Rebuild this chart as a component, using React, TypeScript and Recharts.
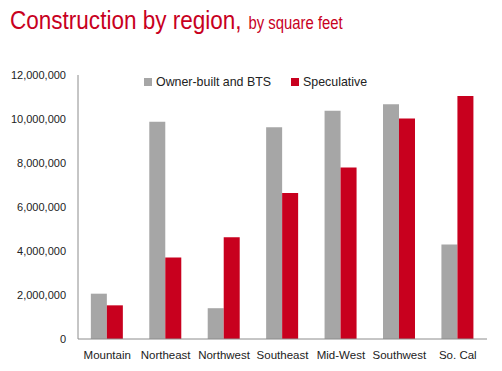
import React from 'react';
import { BarChart, Bar, XAxis, YAxis } from 'recharts';

const regions = ['Mountain', 'Northeast', 'Northwest', 'Southeast', 'Mid-West', 'Southwest', 'So. Cal'];
const ownerBuilt = [2060000, 9880000, 1400000, 9620000, 10380000, 10670000, 4290000];
const speculative = [1530000, 3700000, 4620000, 6640000, 7790000, 10020000, 11050000];
const yTicks = [0, 2000000, 4000000, 6000000, 8000000, 10000000, 12000000];

const GRAY = '#a6a6a6';
const RED = '#c8001e';
const FONT = 'Arial, "Liberation Sans", sans-serif';

const data = regions.map((region, i) => ({
  region,
  owner: ownerBuilt[i],
  spec: speculative[i],
}));

const legendItems = [
  { label: 'Owner-built and BTS', color: GRAY },
  { label: 'Speculative', color: RED },
];

function ChartLegend() {
  return (
    <div
      style={{
        position: 'absolute',
        left: 144,
        top: 75,
        display: 'flex',
        alignItems: 'center',
        fontFamily: FONT,
        fontSize: 12.4,
        color: '#222',
        whiteSpace: 'nowrap',
      }}
    >
      {legendItems.map((item, i) => (
        <span key={item.label} style={{ display: 'flex', alignItems: 'center', marginRight: i === 0 ? 20 : 0 }}>
          <span style={{ width: 8, height: 8, background: item.color, marginRight: 4, display: 'inline-block' }} />
          {item.label}
        </span>
      ))}
    </div>
  );
}

export default function App() {
  return (
    <div style={{ position: 'absolute', left: 0, top: 0, width: 502, height: 371, background: '#fff', overflow: 'hidden' }}>
      <BarChart
        width={502}
        height={371}
        data={data}
        margin={{ top: 75, right: 15, bottom: 0, left: 0 }}
        barCategoryGap="22%"
        barGap={0}
      >
        <XAxis
          dataKey="region"
          height={32}
          tickLine={false}
          tickSize={0}
          tickMargin={12}
          axisLine={{ stroke: '#8c8c8c' }}
          tick={{ fill: '#222', fontSize: 11.5, fontFamily: FONT }}
          interval={0}
        />
        <YAxis
          width={78}
          domain={[0, 12000000]}
          ticks={yTicks}
          tickLine={false}
          tickSize={0}
          tickMargin={12}
          axisLine={{ stroke: '#8c8c8c' }}
          tick={{ fill: '#222', fontSize: 11, fontFamily: FONT }}
          tickFormatter={(v: number) => v.toLocaleString('en-US')}
        />
        <Bar dataKey="owner" name="Owner-built and BTS" fill={GRAY} isAnimationActive={false} />
        <Bar dataKey="spec" name="Speculative" fill={RED} isAnimationActive={false} />
      </BarChart>
      <div
        style={{
          position: 'absolute',
          left: 10,
          top: 5,
          color: RED,
          fontFamily: FONT,
          whiteSpace: 'nowrap',
          transform: 'scaleX(0.85)',
          transformOrigin: 'left top',
        }}
      >
        <span style={{ fontSize: 26.5 }}>Construction by region,</span>
        <span style={{ fontSize: 17.5, marginLeft: 8 }}>by square feet</span>
      </div>
      <ChartLegend />
    </div>
  );
}
